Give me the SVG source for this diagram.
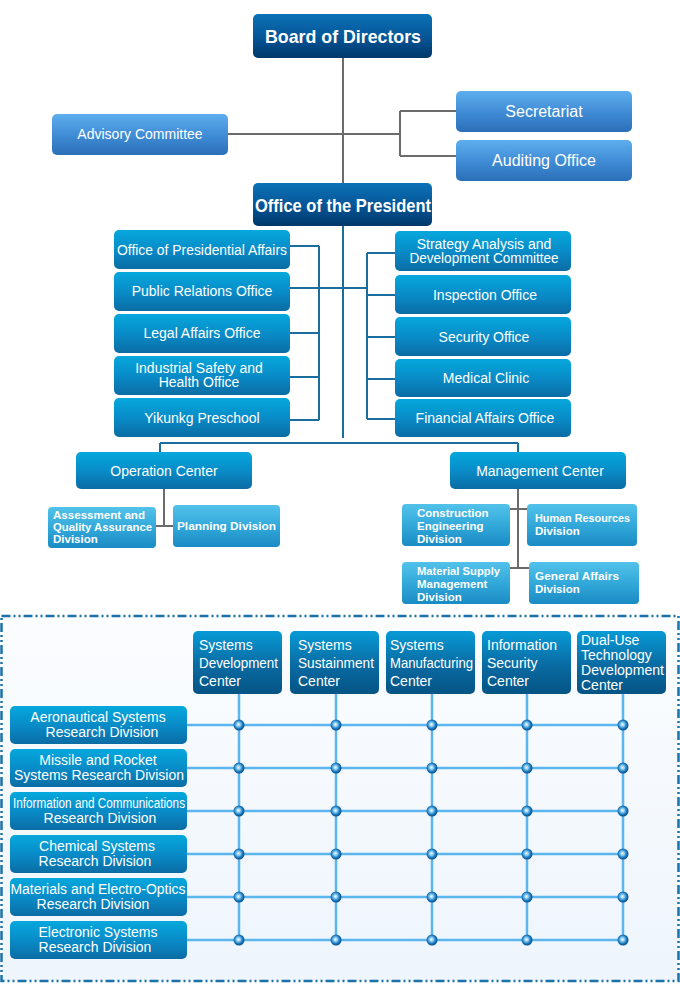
<svg xmlns="http://www.w3.org/2000/svg" width="680" height="1005" viewBox="0 0 680 1005">
<defs>
<linearGradient id="gDark" x1="0" y1="0" x2="0" y2="1"><stop offset="0" stop-color="#0c72b6"/><stop offset="0.55" stop-color="#055496"/><stop offset="1" stop-color="#003769"/></linearGradient>
<linearGradient id="gAdv" x1="0" y1="0" x2="0" y2="1"><stop offset="0" stop-color="#5eaeee"/><stop offset="0.55" stop-color="#3f8ad4"/><stop offset="1" stop-color="#2b6fb8"/></linearGradient>
<linearGradient id="gCyan" x1="0" y1="0" x2="0" y2="1"><stop offset="0" stop-color="#05a8dd"/><stop offset="0.55" stop-color="#0989c5"/><stop offset="1" stop-color="#0b6ca4"/></linearGradient>
<linearGradient id="gDiv" x1="0" y1="0" x2="0" y2="1"><stop offset="0" stop-color="#52c2ea"/><stop offset="0.55" stop-color="#30a6d8"/><stop offset="1" stop-color="#1a8bc4"/></linearGradient>
<linearGradient id="gCtr" x1="0" y1="0" x2="0" y2="1"><stop offset="0" stop-color="#079ad6"/><stop offset="0.55" stop-color="#0a6aa2"/><stop offset="1" stop-color="#055484"/></linearGradient>
<linearGradient id="gFrame" x1="0" y1="0" x2="0" y2="1"><stop offset="0" stop-color="#fbfdff"/><stop offset="1" stop-color="#eef5fc"/></linearGradient>
<radialGradient id="gDot" cx="0.45" cy="0.45" r="0.55"><stop offset="0" stop-color="#ffffff"/><stop offset="0.3" stop-color="#8fd0f5"/><stop offset="0.7" stop-color="#1a78bd"/><stop offset="1" stop-color="#0a4e88"/></radialGradient>
<g id="dot"><circle r="5.5" fill="url(#gDot)"/></g>
</defs>
<style>
text{font-family:"Liberation Sans",Arial,sans-serif;fill:#ffffff}
.t14{font-size:14px;text-anchor:middle}
.t16{font-size:16px;text-anchor:middle}
.big{font-size:19px;font-weight:bold;text-anchor:middle}
.sm{font-size:11.5px;font-weight:bold}
.ct{font-size:14px}
.gray{stroke:#6b6b6b;stroke-width:2;fill:none}
.blue{stroke:#1a6e9e;stroke-width:2;fill:none}
.grid{stroke:#5cb6ee;stroke-width:2.5;fill:none}
.dark{fill:url(#gDark)}
.adv{fill:url(#gAdv)}
.cyan{fill:url(#gCyan)}
.div{fill:url(#gDiv)}
.ctr{fill:url(#gCtr)}
</style>
<rect width="680" height="1005" fill="#ffffff"/>
<rect x="1.5" y="616" width="677" height="365" fill="url(#gFrame)" stroke="#1a72a8" stroke-width="2.5" stroke-dasharray="9 3 2 3 2 3"/>

<g id="connectors">
<path class="gray" d="M343 58V183M228 134H400M400 111V156M400 111H456M400 156H456"/>
<path class="blue" d="M343 226V438M290 246H319M290 288H367M290 333H319M290 377H319M290 420H319M319 246V420M367 253V419M367 253H395M367 295H395M367 337H395M367 379H395M367 419H395M160 443H518M160 443V452M518 443V452"/>
<path class="gray" d="M164 489V526M156 526H173M518 489V568M510 509H527M510 568H529"/>
<path class="grid" d="M239 694V940M336 694V940M432 694V940M527 694V940M623 694V940M187 725H623M187 768H623M187 811H623M187 854H623M187 897H623M187 940H623"/>
</g>
<g id="dots">
<use href="#dot" x="239" y="725"/><use href="#dot" x="336" y="725"/><use href="#dot" x="432" y="725"/><use href="#dot" x="527" y="725"/><use href="#dot" x="623" y="725"/>
<use href="#dot" x="239" y="768"/><use href="#dot" x="336" y="768"/><use href="#dot" x="432" y="768"/><use href="#dot" x="527" y="768"/><use href="#dot" x="623" y="768"/>
<use href="#dot" x="239" y="811"/><use href="#dot" x="336" y="811"/><use href="#dot" x="432" y="811"/><use href="#dot" x="527" y="811"/><use href="#dot" x="623" y="811"/>
<use href="#dot" x="239" y="854"/><use href="#dot" x="336" y="854"/><use href="#dot" x="432" y="854"/><use href="#dot" x="527" y="854"/><use href="#dot" x="623" y="854"/>
<use href="#dot" x="239" y="897"/><use href="#dot" x="336" y="897"/><use href="#dot" x="432" y="897"/><use href="#dot" x="527" y="897"/><use href="#dot" x="623" y="897"/>
<use href="#dot" x="239" y="940"/><use href="#dot" x="336" y="940"/><use href="#dot" x="432" y="940"/><use href="#dot" x="527" y="940"/><use href="#dot" x="623" y="940"/>
</g>

<g id="board"><rect class="dark" x="253" y="14" width="179" height="44" rx="5"/><text class="big" x="343" y="43" textLength="156" lengthAdjust="spacingAndGlyphs">Board of Directors</text></g>
<g id="advisory"><rect class="adv" x="52" y="114" width="176" height="41" rx="5"/><text class="t14" x="140" y="139">Advisory Committee</text></g>
<g id="secretariat"><rect class="adv" x="456" y="91" width="176" height="41" rx="5"/><text class="t16" x="544" y="117">Secretariat</text></g>
<g id="auditing"><rect class="adv" x="456" y="140" width="176" height="41" rx="5"/><text class="t16" x="544" y="166">Auditing Office</text></g>
<g id="president"><rect class="dark" x="253" y="183" width="179" height="43" rx="5"/><text class="big" x="343" y="212" textLength="176" lengthAdjust="spacingAndGlyphs">Office of the President</text></g>

<g id="presidential-affairs"><rect class="cyan" x="114" y="230" width="176" height="39" rx="5"/><text class="t14" x="202" y="255" textLength="170" lengthAdjust="spacingAndGlyphs">Office of Presidential Affairs</text></g>
<g id="public-relations"><rect class="cyan" x="114" y="272" width="176" height="39" rx="5"/><text class="t14" x="202" y="296">Public Relations Office</text></g>
<g id="legal"><rect class="cyan" x="114" y="314" width="176" height="39" rx="5"/><text class="t14" x="202" y="338">Legal Affairs Office</text></g>
<g id="industrial-safety"><rect class="cyan" x="114" y="356" width="176" height="39" rx="5"/><text class="t14" x="199" y="373">Industrial Safety and</text><text class="t14" x="199" y="387">Health Office</text></g>
<g id="preschool"><rect class="cyan" x="114" y="398" width="176" height="39" rx="5"/><text class="t14" x="202" y="423">Yikunkg Preschool</text></g>

<g id="strategy"><rect class="cyan" x="395" y="231" width="176" height="40" rx="5"/><text class="t14" x="484" y="249">Strategy Analysis and</text><text class="t14" x="484" y="263" textLength="149" lengthAdjust="spacingAndGlyphs">Development Committee</text></g>
<g id="inspection"><rect class="cyan" x="395" y="275" width="176" height="39" rx="5"/><text class="t14" x="485" y="300">Inspection Office</text></g>
<g id="security"><rect class="cyan" x="395" y="317" width="176" height="39" rx="5"/><text class="t14" x="484" y="342">Security Office</text></g>
<g id="medical"><rect class="cyan" x="395" y="359" width="176" height="38" rx="5"/><text class="t14" x="486" y="383">Medical Clinic</text></g>
<g id="financial"><rect class="cyan" x="395" y="399" width="176" height="38" rx="5"/><text class="t14" x="485" y="423">Financial Affairs Office</text></g>

<g id="operation"><rect class="cyan" x="76" y="452" width="176" height="37" rx="5"/><text class="t14" x="164" y="476">Operation Center</text></g>
<g id="management"><rect class="cyan" x="450" y="452" width="176" height="37" rx="5"/><text class="t14" x="540" y="476">Management Center</text></g>

<g id="assessment"><rect class="div" x="48" y="507" width="108" height="41" rx="4"/><text class="sm" x="53" y="519" textLength="92" lengthAdjust="spacingAndGlyphs">Assessment and</text><text class="sm" x="53" y="531" textLength="99" lengthAdjust="spacingAndGlyphs">Quality Assurance</text><text class="sm" x="53" y="543">Division</text></g>
<g id="planning"><rect class="div" x="173" y="505" width="107" height="42" rx="4"/><text class="sm" x="177" y="530" textLength="99" lengthAdjust="spacingAndGlyphs">Planning Division</text></g>
<g id="construction"><rect class="div" x="402" y="504" width="108" height="42" rx="4"/><text class="sm" x="417" y="517">Construction</text><text class="sm" x="417" y="530">Engineering</text><text class="sm" x="417" y="543">Division</text></g>
<g id="human-resources"><rect class="div" x="527" y="504" width="110" height="42" rx="4"/><text class="sm" x="535" y="522" textLength="95" lengthAdjust="spacingAndGlyphs">Human Resources</text><text class="sm" x="535" y="535">Division</text></g>
<g id="material-supply"><rect class="div" x="402" y="562" width="108" height="42" rx="4"/><text class="sm" x="417" y="575" textLength="83" lengthAdjust="spacingAndGlyphs">Material Supply</text><text class="sm" x="417" y="588">Management</text><text class="sm" x="417" y="601">Division</text></g>
<g id="general-affairs"><rect class="div" x="529" y="562" width="110" height="42" rx="4"/><text class="sm" x="535" y="580" textLength="84" lengthAdjust="spacingAndGlyphs">General Affairs</text><text class="sm" x="535" y="593">Division</text></g>

<g id="sys-dev"><rect class="ctr" x="193" y="631" width="89" height="63" rx="5"/><text class="ct" x="199" y="650">Systems</text><text class="ct" x="199" y="668" textLength="79" lengthAdjust="spacingAndGlyphs">Development</text><text class="ct" x="199" y="686">Center</text></g>
<g id="sys-sus"><rect class="ctr" x="290" y="631" width="89" height="63" rx="5"/><text class="ct" x="298" y="650">Systems</text><text class="ct" x="298" y="668" textLength="76" lengthAdjust="spacingAndGlyphs">Sustainment</text><text class="ct" x="298" y="686">Center</text></g>
<g id="sys-man"><rect class="ctr" x="386" y="631" width="89" height="63" rx="5"/><text class="ct" x="390" y="650">Systems</text><text class="ct" x="390" y="668" textLength="83" lengthAdjust="spacingAndGlyphs">Manufacturing</text><text class="ct" x="390" y="686">Center</text></g>
<g id="info-sec"><rect class="ctr" x="482" y="631" width="89" height="63" rx="5"/><text class="ct" x="487" y="650">Information</text><text class="ct" x="487" y="668">Security</text><text class="ct" x="487" y="686">Center</text></g>
<g id="dual-use"><rect class="ctr" x="577" y="631" width="89" height="63" rx="5"/><text class="ct" x="581" y="645">Dual-Use</text><text class="ct" x="581" y="660">Technology</text><text class="ct" x="581" y="675" textLength="83" lengthAdjust="spacingAndGlyphs">Development</text><text class="ct" x="581" y="690">Center</text></g>

<g id="aeronautical"><rect class="cyan" x="10" y="706" width="177" height="38" rx="5"/><text class="t14" x="98" y="722">Aeronautical Systems</text><text class="t14" x="102" y="737">Research Division</text></g>
<g id="missile"><rect class="cyan" x="10" y="749" width="177" height="38" rx="5"/><text class="t14" x="98" y="765">Missile and Rocket</text><text class="t14" x="99" y="780" textLength="170" lengthAdjust="spacingAndGlyphs">Systems Research Division</text></g>
<g id="info-comm"><rect class="cyan" x="10" y="792" width="177" height="38" rx="5"/><text class="t14" x="99" y="808" textLength="172" lengthAdjust="spacingAndGlyphs">Information and Communications</text><text class="t14" x="100" y="823">Research Division</text></g>
<g id="chemical"><rect class="cyan" x="10" y="835" width="177" height="38" rx="5"/><text class="t14" x="97" y="851">Chemical Systems</text><text class="t14" x="95" y="866">Research Division</text></g>
<g id="materials"><rect class="cyan" x="10" y="878" width="177" height="38" rx="5"/><text class="t14" x="98" y="894" textLength="175" lengthAdjust="spacingAndGlyphs">Materials and Electro-Optics</text><text class="t14" x="93" y="909">Research Division</text></g>
<g id="electronic"><rect class="cyan" x="10" y="921" width="177" height="38" rx="5"/><text class="t14" x="98" y="937">Electronic Systems</text><text class="t14" x="95" y="952">Research Division</text></g>
</svg>
